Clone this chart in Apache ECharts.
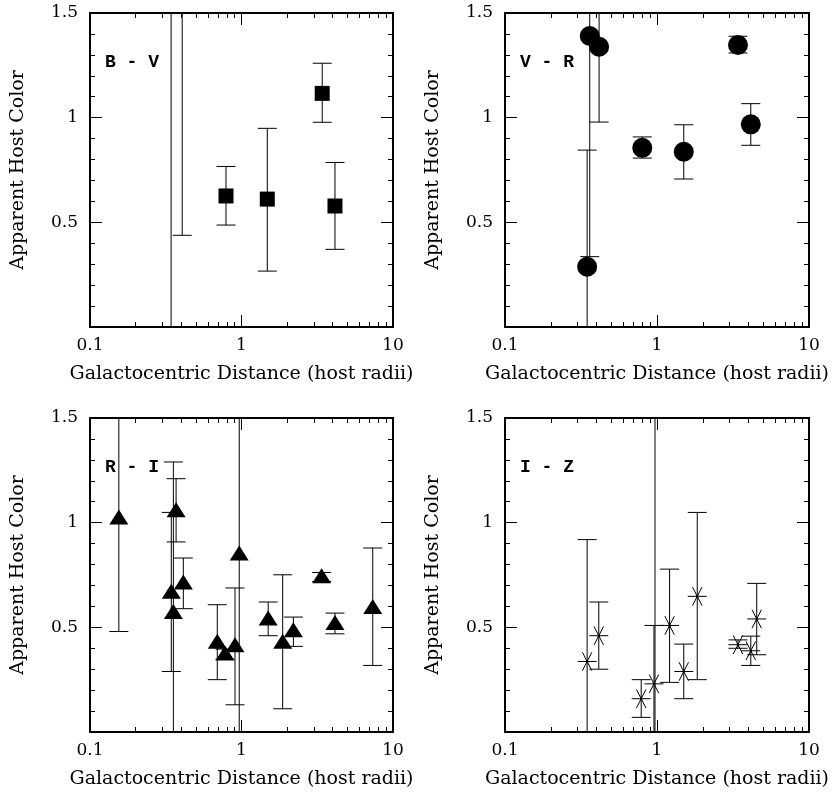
<!DOCTYPE html>
<html><head><meta charset="utf-8">
<script src="https://cdn.jsdelivr.net/npm/echarts@6/dist/echarts.min.js"></script>
<style>html,body{margin:0;padding:0;background:#fff}#c{width:837px;height:794px}</style>
</head><body><div id="c"></div>
<script>
const FONT = 'DejaVu Serif';
const LABEL_FONT = 'Liberation Mono';

// ---- data (x: galactocentric distance in host radii; y: apparent host color) ----
// null y = marker lies outside the plotted colour range (only its error bar is visible)
const bvX  = [0.343, 0.406, 0.79, 1.48, 3.41, 4.14];
const bvY  = [null, null, 0.626, 0.611, 1.116, 0.578];
const bvLo = [-0.5, 0.438, 0.487, 0.267, 0.978, 0.371];
const bvHi = [2.5, 2.5, 0.767, 0.949, 1.26, 0.786];

const vrX  = [0.361, 0.416, 0.347, 0.80, 1.50, 3.41, 4.14];
const vrY  = [1.39, 1.339, 0.288, 0.856, 0.837, 1.347, 0.968];
const vrLo = [0.336, 0.979, -0.5, 0.807, 0.707, 1.309, 0.868];
const vrHi = [2.5, 2.5, 0.845, 0.908, 0.966, 1.389, 1.067];

const riX  = [0.155, 0.37, 0.344, 0.355, 0.413, 0.692, 0.778, 0.906, 0.966, 1.50, 1.87, 2.2, 3.38, 4.14, 7.35];
const riY  = [1.027, 1.062, 0.672, 0.576, 0.716, 0.433, 0.377, 0.417, 0.855, 0.544, 0.433, 0.489, 0.747, 0.523, 0.60];
const riLo = [0.48, 0.908, 0.289, -0.5, 0.589, 0.25, 0.348, 0.13, -0.5, 0.46, 0.111, 0.409, 0.719, 0.469, 0.318];
const riHi = [2.5, 1.21, 1.049, 1.29, 0.831, 0.608, 0.396, 0.688, 2.5, 0.621, 0.751, 0.549, 0.762, 0.568, 0.879];

const izX  = [0.347, 0.414, 0.787, 0.955, 0.97, 1.21, 1.50, 1.84, 3.41, 4.14, 4.53];
const izY  = [0.337, 0.46, 0.159, 0.23, null, 0.509, 0.289, 0.648, 0.417, 0.388, 0.54];
const izLo = [-0.5, 0.30, 0.07, -0.5, -0.5, 0.237, 0.159, 0.25, 0.40, 0.318, 0.369];
const izHi = [0.919, 0.621, 0.25, 0.509, 2.5, 0.778, 0.42, 1.049, 0.44, 0.458, 0.71];

const panelLabels = ['B - V', 'V - R', 'R - I', 'I - Z'];
const xMajorTicks = [0.1, 1, 10];
const xMinorTicks = [0.2,0.3,0.4,0.5,0.6,0.7,0.8,0.9,2,3,4,5,6,7,8,9];
const xName = 'Galactocentric Distance (host radii)';
const yName = 'Apparent Host Color';

// ---- layout ----
const panels = [
  {x:bvX, y:bvY, lo:bvLo, hi:bvHi, sym:'rect',     left:90,  top:13,  width:303},
  {x:vrX, y:vrY, lo:vrLo, hi:vrHi, sym:'circle',   left:505, top:13,  width:304},
  {x:riX, y:riY, lo:riLo, hi:riHi, sym:'triangle', left:90,  top:418, width:303},
  {x:izX, y:izY, lo:izLo, hi:izHi, sym:'star',     left:505, top:418, width:304}
];
const H = 314;
const BLACK = '#000';

function errItem(params, api) {
  const x = api.value(0), lo = api.value(1), hi = api.value(2);
  const a = api.coord([x, lo]), b = api.coord([x, hi]);
  const hw = 9.5, st = {stroke: BLACK, lineWidth: 1};
  return {type:'group', children:[
    {type:'line', shape:{x1:a[0], y1:a[1], x2:b[0], y2:b[1]}, style:st},
    {type:'line', shape:{x1:a[0]-hw, y1:a[1], x2:a[0]+hw, y2:a[1]}, style:st},
    {type:'line', shape:{x1:b[0]-hw, y1:b[1], x2:b[0]+hw, y2:b[1]}, style:st}
  ]};
}
function starItem(params, api) {
  const p = api.coord([api.value(0), api.value(1)]);
  const st = {stroke: BLACK, lineWidth: 1};
  const ch = [{type:'line', shape:{x1:p[0]-9.5, y1:p[1], x2:p[0]+9.5, y2:p[1]}, style:st}];
  [63, 117].forEach(function (deg) {
    const t = deg * Math.PI / 180, dx = 10.4 * Math.cos(t), dy = 10.4 * Math.sin(t);
    ch.push({type:'line', shape:{x1:p[0]-dx, y1:p[1]-dy, x2:p[0]+dx, y2:p[1]+dy}, style:st});
  });
  ch.push({type:'circle', shape:{cx:p[0], cy:p[1], r:1.3}, style:{fill:BLACK}});
  return {type:'group', children: ch};
}

const grid = [], xAxis = [], yAxis = [], series = [], title = [];
const labelStyle = {fontFamily: FONT, fontSize: 17, color: BLACK};
const nameStyle = {fontFamily: FONT, fontSize: 19, color: BLACK};
panels.forEach(function (p, i) {
  grid.push({left: p.left, top: p.top, width: p.width, height: H});
  const xBase = {type:'log', logBase:10, min:0.1, max:10, gridIndex:i, splitLine:{show:false}};
  const xi = xAxis.length;
  xAxis.push(Object.assign({}, xBase, {
    position:'bottom',
    axisLine:{show:true, lineStyle:{color:BLACK, width:2}},
    axisTick:{show:true, inside:true, length:12, lineStyle:{color:BLACK}, customValues: xMajorTicks},
    axisLabel:Object.assign({show:true, margin:10, customValues: xMajorTicks,
      formatter:function(v){ return v >= 1 ? String(Math.round(v)) : v.toFixed(1); }}, labelStyle),
    name: xName, nameLocation:'middle', nameGap:38, nameTextStyle: nameStyle
  }));
  xAxis.push(Object.assign({}, xBase, {position:'bottom', axisLine:{show:false},
    axisTick:{show:true, inside:true, length:5, lineStyle:{color:BLACK}, customValues: xMinorTicks},
    axisLabel:{show:false}}));
  xAxis.push(Object.assign({}, xBase, {position:'top',
    axisLine:{show:true, lineStyle:{color:BLACK, width:2}},
    axisTick:{show:true, inside:true, length:12, lineStyle:{color:BLACK}, customValues: xMajorTicks},
    axisLabel:{show:false}}));
  xAxis.push(Object.assign({}, xBase, {position:'top', axisLine:{show:false},
    axisTick:{show:true, inside:true, length:5, lineStyle:{color:BLACK}, customValues: xMinorTicks},
    axisLabel:{show:false}}));

  const yBase = {type:'value', min:0, max:1.5, interval:0.5, gridIndex:i, splitLine:{show:false},
    axisLine:{show:true, lineStyle:{color:BLACK, width:2}},
    axisTick:{show:true, inside:true, length:12, lineStyle:{color:BLACK}},
    minorTick:{show:true, splitNumber:5, length:5, lineStyle:{color:BLACK}}};
  const yi = yAxis.length;
  yAxis.push(Object.assign({}, yBase, {position:'left',
    axisLabel:Object.assign({show:true, margin:12,
      formatter:function(v){ return v === 0 ? '' : String(v); }}, labelStyle),
    name: yName, nameLocation:'middle', nameGap:62, nameRotate:90, nameTextStyle: nameStyle}));
  yAxis.push(Object.assign({}, yBase, {position:'right', axisLabel:{show:false}}));

  const errData = p.x.map(function (v, k) { return [v, p.lo[k], p.hi[k]]; });
  series.push({type:'custom', xAxisIndex:xi, yAxisIndex:yi, clip:true, renderItem: errItem,
    data: errData, encode:{x:0, y:[1,2]}, silent:true, z:2});
  const ptData = [];
  p.x.forEach(function (v, k) { if (p.y[k] !== null) ptData.push([v, p.y[k]]); });
  if (p.sym === 'star') {
    series.push({type:'custom', xAxisIndex:xi, yAxisIndex:yi, renderItem: starItem,
      data: ptData, encode:{x:0, y:1}, silent:true, z:3});
  } else {
    const size = p.sym === 'rect' ? 15 : (p.sym === 'circle' ? 20 : [19, 15]);
    series.push({type:'scatter', xAxisIndex:xi, yAxisIndex:yi, symbol:p.sym, symbolSize:size,
      itemStyle:{color:BLACK, opacity:1}, data: ptData, silent:true, z:3});
  }
  title.push({text: panelLabels[i], left: p.left + 15, top: p.top + 40, padding:0,
    textStyle:{fontFamily: LABEL_FONT, fontSize: 18, fontWeight:'bold', color: BLACK}});
});

const chart = echarts.init(document.getElementById('c'), null, {renderer:'canvas'});
chart.setOption({animation:false, backgroundColor:'#fff', title, grid, xAxis, yAxis, series});
</script></body></html>
